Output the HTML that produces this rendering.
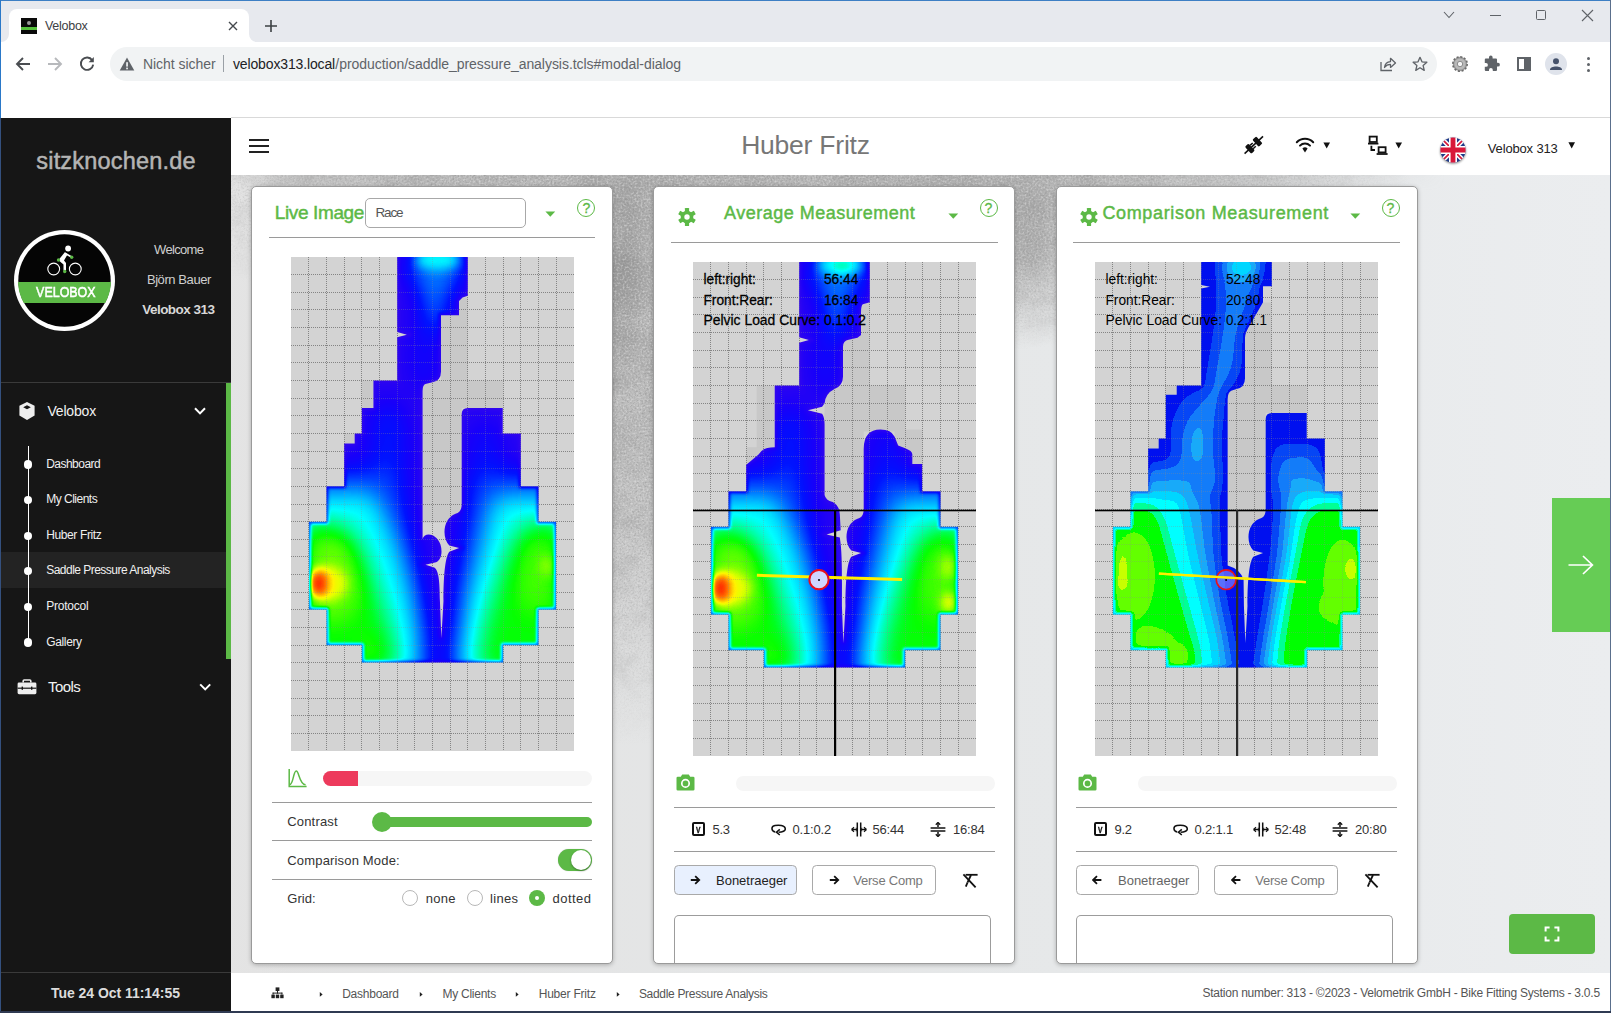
<!DOCTYPE html>
<html><head><meta charset="utf-8"><title>Velobox</title>
<style>
*{box-sizing:border-box;margin:0;padding:0}
html,body{width:1611px;height:1013px;overflow:hidden;background:#fff;font-family:"Liberation Sans",sans-serif;}
.abs{position:absolute}
#win{position:absolute;left:0;top:0;width:1611px;height:1013px;overflow:hidden;background:#fff}
.t{position:absolute;white-space:nowrap;line-height:1}
/* chrome */
#tabbar{position:absolute;left:0;top:0;width:1611px;height:43px;background:#e7e9ee}
#tab{position:absolute;left:9px;top:9px;width:240px;height:34px;background:#fff;border-radius:8px 8px 0 0}
#toolbar{position:absolute;left:0;top:42px;width:1611px;height:75px;background:#fff}
#omni{position:absolute;left:110px;top:47px;width:1327px;height:34px;border-radius:17px;background:#f1f3f4}
/* app */
#side{position:absolute;left:1px;top:118px;width:230px;height:895px;background:#161616}
#hdr{position:absolute;left:231px;top:118px;width:1380px;height:57px;background:#fff}
#content{position:absolute;left:231px;top:175px;width:1380px;height:798px;overflow:hidden;background:#dcdedf}
#foot{position:absolute;left:231px;top:973px;width:1380px;height:40px;background:#fff}
.card{position:absolute;top:186px;width:362px;height:778px;background:#fff;border:1px solid #9a9a9a;border-radius:5px;box-shadow:0 1px 4px rgba(0,0,0,.25);overflow:hidden}
.hr{position:absolute;height:1px;background:#9a9a9a}
.g{color:#5cb946}
</style></head><body><div id="win">

<!-- browser chrome -->
<div id="tabbar"></div>
<div id="tab"></div>
<svg class="abs" style="left:1px;top:34px" width="8" height="8"><path d="M8 0 V8 H0 A8 8 0 0 0 8 0Z" fill="#fff"/></svg>
<svg class="abs" style="left:249px;top:34px" width="8" height="8"><path d="M0 0 V8 H8 A8 8 0 0 1 0 0Z" fill="#fff"/></svg>
<div id="toolbar"></div>
<div class="abs" style="left:231px;top:117px;width:1380px;height:1px;background:#d9d9d9"></div>
<div id="omni"></div>
<!-- favicon -->
<div class="abs" style="left:21px;top:18px;width:16px;height:16px;background:#0a0a0a"></div>
<div class="abs" style="left:21px;top:27px;width:16px;height:3px;background:#55c03c"></div>
<div class="abs" style="left:27px;top:21px;width:4px;height:4px;border-radius:2px;background:#999"></div>
<svg class="abs" style="left:227px;top:20px" width="12" height="12"><path d="M2 2 L10 10 M10 2 L2 10" stroke="#45494d" stroke-width="1.4" fill="none"/></svg>
<svg class="abs" style="left:263px;top:18px" width="16" height="16"><path d="M8 2 V14 M2 8 H14" stroke="#3c4043" stroke-width="1.6" fill="none"/></svg>
<!-- window controls -->
<svg class="abs" style="left:1440px;top:8px" width="18" height="14"><path d="M4 4 L9 9.5 L14 4" stroke="#5f6368" stroke-width="1.1" fill="none"/></svg>
<div class="abs" style="left:1490px;top:15px;width:11px;height:1px;background:#5f6368"></div>
<div class="abs" style="left:1536px;top:10px;width:10px;height:10px;border:1px solid #5f6368;border-radius:1.5px"></div>
<svg class="abs" style="left:1581px;top:9px" width="13" height="13"><path d="M1 1 L12 12 M12 1 L1 12" stroke="#5f6368" stroke-width="1.1" fill="none"/></svg>
<!-- nav buttons -->
<svg class="abs" style="left:14px;top:55px" width="18" height="18"><path d="M16 9 H3.5 M9 3 L3 9 L9 15" stroke="#4a4d51" stroke-width="1.9" fill="none"/></svg>
<svg class="abs" style="left:46px;top:55px" width="18" height="18"><path d="M2 9 H14.5 M9 3 L15 9 L9 15" stroke="#b7b9bc" stroke-width="1.9" fill="none"/></svg>
<svg class="abs" style="left:78px;top:55px" width="18" height="18"><path d="M14.2 5.2 A6.2 6.2 0 1 0 15.2 9.6" stroke="#4a4d51" stroke-width="1.9" fill="none"/><path d="M15.8 2 V7.2 H10.6Z" fill="#4a4d51"/></svg>
<!-- warning -->
<svg class="abs" style="left:119px;top:56px" width="16" height="16"><path d="M8 1.5 L15.3 14.5 H0.7Z" fill="#5f6368"/><rect x="7.2" y="6.2" width="1.7" height="4.4" fill="#f1f3f4"/><rect x="7.2" y="11.6" width="1.7" height="1.7" fill="#f1f3f4"/></svg>
<div class="abs" style="left:223px;top:55px;width:1px;height:17px;background:#9aa0a6"></div>
<!-- omnibox right icons -->
<svg class="abs" style="left:1378px;top:55px" width="20" height="18"><path d="M3 7 V15.5 H14" stroke="#5f6368" stroke-width="1.3" fill="none"/><path d="M6.5 12.5 C7 8.5 9.5 6.8 12.5 6.6 V3.3 L17.5 8 L12.5 12.4 V9.4 C10 9.4 8 10.3 6.5 12.5Z" stroke="#5f6368" stroke-width="1.3" fill="none" stroke-linejoin="round"/></svg>
<svg class="abs" style="left:1411px;top:55px" width="18" height="18" viewBox="0 0 20 20"><path d="M10 2.6 L12.2 7.6 L17.6 8.1 L13.5 11.7 L14.7 17 L10 14.2 L5.3 17 L6.5 11.7 L2.4 8.1 L7.8 7.6Z" stroke="#5f6368" stroke-width="1.5" fill="none" stroke-linejoin="round"/></svg>
<!-- extension gear -->
<svg class="abs" style="left:1450px;top:54px" width="20" height="20"><circle cx="10" cy="10" r="7.2" fill="#9a9a9a" stroke="#6b6b6b" stroke-width="1.6" stroke-dasharray="2.1 1.67"/><circle cx="10" cy="10" r="5.6" fill="#b9b9b9"/><circle cx="10" cy="10" r="2.7" fill="#f4f4f4" stroke="#777" stroke-width=".8"/></svg>
<!-- puzzle -->
<svg class="abs" style="left:1481px;top:54px" width="20" height="20"><path d="M8 3.2 a1.8 1.8 0 0 1 3.6 0 V4.6 H15 a1 1 0 0 1 1 1 V8.8 h1 a1.9 1.9 0 0 1 0 3.8 h-1 V16 a1 1 0 0 1 -1 1 H11.8 v-1.1 a1.9 1.9 0 0 0 -3.8 0 V17 H4.8 a1 1 0 0 1 -1 -1 V12.8 H5 a1.9 1.9 0 0 0 0 -3.8 H3.8 V5.6 a1 1 0 0 1 1 -1 H8Z" fill="#5f6368"/></svg>
<!-- side panel -->
<div class="abs" style="left:1517px;top:57px;width:14px;height:14px;border:2px solid #5f6368"></div>
<div class="abs" style="left:1524px;top:57px;width:7px;height:14px;background:#5f6368"></div>
<!-- avatar -->
<div class="abs" style="left:1545px;top:53px;width:22px;height:22px;border-radius:11px;background:#dfe3eb"></div>
<svg class="abs" style="left:1545px;top:53px" width="22" height="22"><circle cx="11" cy="8.2" r="3" fill="#45526b"/><path d="M5 16.6 C5 12.4 17 12.4 17 16.6 V17 H5Z" fill="#45526b"/></svg>
<!-- kebab -->
<div class="abs" style="left:1587px;top:57px;width:3px;height:3px;border-radius:2px;background:#5f6368"></div>
<div class="abs" style="left:1587px;top:63px;width:3px;height:3px;border-radius:2px;background:#5f6368"></div>
<div class="abs" style="left:1587px;top:69px;width:3px;height:3px;border-radius:2px;background:#5f6368"></div>

<div class="t" style="left:45.0px;top:19.6px;font-size:12.5px;color:#3c4043;letter-spacing:-0.28px;">Velobox</div><div class="t" style="left:143.0px;top:57.0px;font-size:14px;color:#5f6368;letter-spacing:-0.05px;">Nicht sicher</div><div class="t" style="left:233.0px;top:57.0px;font-size:14px;color:#202124;letter-spacing:-0.14px;">velobox313.local</div><div class="t" style="left:335.3px;top:57.0px;font-size:14px;color:#5f6368;letter-spacing:-0.04px;">/production/saddle_pressure_analysis.tcls#modal-dialog</div>
<div id="side"></div>
<div class="abs" style="left:0;top:118px;width:1px;height:895px;background:#34507e"></div><div class="t" style="left:36.3px;top:149.8px;font-size:23.5px;color:#b4b4b4;letter-spacing:0.19px;-webkit-text-stroke:.5px #b4b4b4;">sitzknochen.de</div><svg class="abs" style="left:12px;top:228px" width="105" height="105" viewBox="-52.5 -52.5 105 105">
<defs><clipPath id="lgc"><circle r="46.5"/></clipPath></defs>
<circle r="50.5" fill="#fff"/><circle r="46.2" fill="#050505"/>
<rect x="-50" y="1.5" width="100" height="21" fill="#5cb946" clip-path="url(#lgc)"/>
<g fill="none" stroke="#fff" stroke-width="1.1"><circle cx="-10.8" cy="-11.5" r="5.9"/><circle cx="10.8" cy="-11.5" r="5.9"/></g>
<circle cx="3.6" cy="-32" r="2.9" fill="#fff"/>
<path d="M-6 -20.5 L0.5 -28.5 L3 -26 L-0.5 -20 L1.5 -17.5 L1.5 -10 L-1 -10 L-1 -16 L-4.5 -19 Z" fill="#fff"/>
<path d="M1 -27 L7 -23.5" stroke="#fff" stroke-width="1.6"/>
<circle cx="-6" cy="-20.5" r="1.7" fill="#5cb946"/><circle cx="7.2" cy="-23.2" r="1.7" fill="#5cb946"/><circle cx="0.2" cy="-9" r="1.7" fill="#5cb946"/>
</svg><div class="t" style="left:29.5px;top:283.6px;font-size:15px;color:#fff;transform:scaleX(.83);-webkit-text-stroke:.55px #fff;">VELOBOX</div><div class="t" style="left:154.0px;top:242.8px;font-size:13px;color:#cfcfcf;letter-spacing:-0.66px;">Welcome</div><div class="t" style="left:146.9px;top:273.4px;font-size:13px;color:#cfcfcf;letter-spacing:-0.42px;">Björn Bauer</div><div class="t" style="left:142.2px;top:302.8px;font-size:13.5px;color:#d8d8d8;font-weight:700;letter-spacing:-0.52px;">Velobox 313</div><div class="abs" style="left:1px;top:382px;width:230px;height:1px;background:#3a3a3a"></div><div class="abs" style="left:226px;top:383px;width:5px;height:276px;background:#5cb946"></div><svg class="abs" style="left:17px;top:401px" width="20" height="20" viewBox="0 0 20 20"><path d="M10 1 L17.6 4.8 V14.6 L10 19 L2.4 14.6 V4.8Z" fill="#eee"/><path d="M10 4.2 L13.8 6.2 L10 8.3 L6.2 6.2Z" fill="#161616"/></svg><div class="t" style="left:47.4px;top:404.1px;font-size:14px;color:#f2f2f2;letter-spacing:-0.18px;">Velobox</div><svg class="abs" style="left:193px;top:405px" width="14" height="12"><path d="M2 3.2 L7 8.4 L12 3.2" stroke="#fff" stroke-width="2" fill="none"/></svg><div class="abs" style="left:1px;top:552px;width:225px;height:36px;background:#232323"></div><div class="abs" style="left:27.5px;top:446px;width:1.5px;height:197px;background:#fff"></div><div class="abs" style="left:24px;top:460.4px;width:8.4px;height:8.4px;border-radius:5px;background:#fff"></div><div class="t" style="left:46.2px;top:457.7px;font-size:12px;color:#f0f0f0;letter-spacing:-0.52px;">Dashboard</div><div class="abs" style="left:24px;top:495.5px;width:8.4px;height:8.4px;border-radius:5px;background:#fff"></div><div class="t" style="left:46.2px;top:492.8px;font-size:12px;color:#f0f0f0;letter-spacing:-0.50px;">My Clients</div><div class="abs" style="left:24px;top:531.5px;width:8.4px;height:8.4px;border-radius:5px;background:#fff"></div><div class="t" style="left:46.2px;top:528.8px;font-size:12px;color:#f0f0f0;letter-spacing:-0.38px;">Huber Fritz</div><div class="abs" style="left:24px;top:566.6px;width:8.4px;height:8.4px;border-radius:5px;background:#fff"></div><div class="t" style="left:46.2px;top:563.9px;font-size:12px;color:#f0f0f0;letter-spacing:-0.52px;">Saddle Pressure Analysis</div><div class="abs" style="left:24px;top:602.6px;width:8.4px;height:8.4px;border-radius:5px;background:#fff"></div><div class="t" style="left:46.2px;top:599.9px;font-size:12px;color:#f0f0f0;letter-spacing:-0.23px;">Protocol</div><div class="abs" style="left:24px;top:638.4px;width:8.4px;height:8.4px;border-radius:5px;background:#fff"></div><div class="t" style="left:46.2px;top:635.7px;font-size:12px;color:#f0f0f0;letter-spacing:-0.35px;">Gallery</div><svg class="abs" style="left:17px;top:679px" width="20" height="16" viewBox="0 0 20 16"><path d="M6.2 3.6 V2 a1 1 0 0 1 1 -1 H12.8 a1 1 0 0 1 1 1 V3.6" stroke="#eee" stroke-width="1.6" fill="none"/><rect x="0.6" y="3.6" width="18.8" height="11.6" rx="1.4" fill="#eee"/><rect x="0.6" y="8.6" width="18.8" height="1.2" fill="#161616"/><rect x="4.6" y="7.6" width="1.4" height="3.2" fill="#161616"/><rect x="14" y="7.6" width="1.4" height="3.2" fill="#161616"/></svg><div class="t" style="left:48.1px;top:679.2px;font-size:15px;color:#f2f2f2;letter-spacing:-0.61px;">Tools</div><svg class="abs" style="left:198px;top:681px" width="14" height="12"><path d="M2.2 3.4 L7.2 8.4 L12.2 3.4" stroke="#fff" stroke-width="2" fill="none"/></svg><div class="abs" style="left:1px;top:972px;width:230px;height:1px;background:#3a3a3a"></div><div class="t" style="left:51.0px;top:986.1px;font-size:14px;color:#dcdcdc;font-weight:700;letter-spacing:-0.04px;">Tue 24 Oct 11:14:55</div>
<div id="hdr"></div>
<div class="abs" style="left:249px;top:139px;width:20px;height:2px;background:#222"></div><div class="abs" style="left:249px;top:145px;width:20px;height:2px;background:#222"></div><div class="abs" style="left:249px;top:151px;width:20px;height:2px;background:#222"></div><div class="t" style="left:741.2px;top:132.1px;font-size:26.5px;color:#777;letter-spacing:-0.23px;">Huber Fritz</div><svg class="abs" style="left:1243px;top:134px" width="22" height="22" viewBox="0 0 22 22"><g transform="translate(10.8 11) rotate(-43)" fill="#111"><rect x="-12.6" y="-0.8" width="25.2" height="1.6"/><rect x="-7.8" y="-4.7" width="4.9" height="9.4" rx="1.2"/><rect x="2.4" y="-4.7" width="5.2" height="9.4" rx="1.2"/><rect x="-3" y="-3" width="3.6" height="1.5"/><rect x="-3" y="1.5" width="3.6" height="1.5"/></g></svg><svg class="abs" style="left:1295px;top:136px" width="20" height="18" viewBox="0 0 20 18"><g fill="none" stroke="#111" stroke-width="2" stroke-linecap="round"><path d="M1.8 6.2 A11.6 11.6 0 0 1 18.2 6.2"/><path d="M5 9.6 A7.1 7.1 0 0 1 15 9.6"/></g><path d="M7.4 12.6 A3.7 3.7 0 0 1 12.6 12.6 L10 16.4Z" fill="#111"/></svg><svg class="abs" style="left:1323px;top:142px" width="8" height="7"><path d="M0.4 0.5 H7 L3.7 6.4Z" fill="#111"/></svg><svg class="abs" style="left:1368px;top:135px" width="20" height="21" viewBox="0 0 20 21"><g fill="none" stroke="#111" stroke-width="1.8"><rect x="1.6" y="1.6" width="7.2" height="5.4"/><path d="M0 8.6 H10.4"/><rect x="10.6" y="12.2" width="7" height="5.2"/><path d="M8.6 19 H19.6"/><path d="M3.4 10.8 V15 H7"/></g></svg><svg class="abs" style="left:1395px;top:142px" width="8" height="7"><path d="M0.4 0.5 H7 L3.7 6.4Z" fill="#111"/></svg><svg class="abs" style="left:1436px;top:133px" width="34" height="34" viewBox="-17 -17 34 34"><defs><clipPath id="fc"><circle r="12.6"/></clipPath><filter id="fsh" x="-30%" y="-30%" width="160%" height="160%"><feGaussianBlur stdDeviation="1.2"/></filter></defs>
<circle r="12.8" cy="1" fill="#000" opacity=".45" filter="url(#fsh)"/>
<g clip-path="url(#fc)"><rect x="-13" y="-13" width="26" height="26" fill="#1f3a8a"/><path d="M-13 -13 L13 13 M13 -13 L-13 13" stroke="#fff" stroke-width="4.6"/><path d="M-13 -13 L13 13 M13 -13 L-13 13" stroke="#d8183a" stroke-width="1.6"/><path d="M0 -13 V13 M-13 0 H13" stroke="#fff" stroke-width="8"/><path d="M0 -13 V13 M-13 0 H13" stroke="#d8183a" stroke-width="4.8"/></g></svg><div class="t" style="left:1487.8px;top:141.6px;font-size:13px;color:#222;letter-spacing:-0.16px;">Velobox 313</div><svg class="abs" style="left:1568px;top:142px" width="8" height="7"><path d="M0.4 0.3 H7 L3.7 6.4Z" fill="#111"/></svg>
<div id="content"></div>
<svg class="abs" style="left:231px;top:175px" width="1380" height="798" viewBox="0 0 1380 798">
<defs>
<radialGradient id="bgc" gradientUnits="userSpaceOnUse" cx="400" cy="60" r="1" gradientTransform="translate(400 60) scale(250 510) translate(-400 -60)">
<stop offset="0" stop-color="#aeaeae" stop-opacity="1"/><stop offset=".3" stop-color="#b2b2b2" stop-opacity=".95"/><stop offset=".6" stop-color="#bbbbbb" stop-opacity=".75"/><stop offset=".8" stop-color="#c4c4c4" stop-opacity=".4"/><stop offset="1" stop-color="#d0d0d0" stop-opacity="0"/></radialGradient>
<radialGradient id="bgd" gradientUnits="userSpaceOnUse" cx="540" cy="0" r="1" gradientTransform="translate(540 0) scale(640 190) translate(-540 0)">
<stop offset="0" stop-color="#adadad" stop-opacity="1"/><stop offset=".5" stop-color="#b2b2b2" stop-opacity=".9"/><stop offset=".8" stop-color="#bcbcbc" stop-opacity=".5"/><stop offset="1" stop-color="#d0d0d0" stop-opacity="0"/></radialGradient>
<linearGradient id="bgl" x1="0" y1="0" x2="1" y2="0"><stop offset="0" stop-color="#e2e2e2"/><stop offset=".6" stop-color="#e6e8e9"/><stop offset="1" stop-color="#ebedef"/></linearGradient>
<linearGradient id="bgtop" x1="0" y1="0" x2="0" y2="1"><stop offset="0" stop-color="#a8a8a8" stop-opacity=".35"/><stop offset="1" stop-color="#a8a8a8" stop-opacity="0"/></linearGradient>
<linearGradient id="bgleft" x1="0" y1="0" x2="1" y2="0"><stop offset="0" stop-color="#e4e4e4" stop-opacity=".9"/><stop offset="1" stop-color="#e4e4e4" stop-opacity="0"/></linearGradient>
<filter id="bgn" x="0" y="0" width="100%" height="100%"><feTurbulence type="fractalNoise" baseFrequency="0.045 0.05" numOctaves="5" seed="7" result="t"/><feColorMatrix type="matrix" values="0 0 0 0 0.36  0 0 0 0 0.36  0 0 0 0 0.36  2.2 0 0 0 -0.95"/></filter>
<filter id="bgn2" x="0" y="0" width="100%" height="100%"><feTurbulence type="fractalNoise" baseFrequency="0.02 0.025" numOctaves="4" seed="11"/><feColorMatrix type="matrix" values="0 0 0 0 1  0 0 0 0 1  0 0 0 0 1  1.5 0 0 0 -0.6"/></filter>
<filter id="bgn3" x="0" y="0" width="100%" height="100%"><feTurbulence type="fractalNoise" baseFrequency="0.55" numOctaves="2" seed="5"/><feColorMatrix type="matrix" values="0 0 0 0 0.25  0 0 0 0 0.25  0 0 0 0 0.25  2.6 0 0 0 -1.15"/></filter><filter id="bgn4" x="0" y="0" width="100%" height="100%"><feTurbulence type="fractalNoise" baseFrequency="0.5" numOctaves="2" seed="9"/><feColorMatrix type="matrix" values="0 0 0 0 0.95  0 0 0 0 0.95  0 0 0 0 0.95  0 2.6 0 0 -1.15"/></filter><filter id="bgbl" x="-50%" y="-50%" width="200%" height="200%"><feGaussianBlur stdDeviation="9"/></filter><mask id="bgm"><rect width="1380" height="798" fill="#000"/><rect width="1380" height="798" fill="url(#bgc)"/><rect width="1380" height="798" fill="url(#bgd)"/></mask>
<linearGradient id="bgtg" x1="0" y1="0" x2="1" y2="0"><stop offset="0" stop-color="#fff"/><stop offset=".72" stop-color="#fff"/><stop offset=".88" stop-color="#000"/></linearGradient><mask id="bgtm"><rect width="1380" height="16" fill="url(#bgtg)"/></mask></defs>
<rect width="1380" height="798" fill="url(#bgl)"/>
<rect width="1380" height="798" fill="url(#bgd)"/>
<rect width="1380" height="798" fill="url(#bgc)"/>
<rect width="1380" height="16" fill="url(#bgtop)" mask="url(#bgtm)"/>
<rect width="60" height="798" fill="url(#bgleft)"/>
<ellipse cx="392" cy="90" rx="16" ry="85" fill="#868686" opacity=".55" filter="url(#bgbl)"/><ellipse cx="800" cy="60" rx="14" ry="50" fill="#8a8a8a" opacity=".4" filter="url(#bgbl)"/><g mask="url(#bgm)"><rect width="1380" height="798" filter="url(#bgn)"/><rect width="1380" height="798" filter="url(#bgn2)" opacity=".35"/><rect width="1380" height="798" filter="url(#bgn3)" opacity=".7"/><rect width="1380" height="798" filter="url(#bgn4)" opacity=".6"/></g>
</svg><div class="card" style="left:251px"></div><div class="card" style="left:653px"></div><div class="card" style="left:1056px"></div><div class="t" style="left:274.8px;top:203.1px;font-size:19px;color:#5cb946;letter-spacing:-0.38px;-webkit-text-stroke:.45px #5cb946;">Live Image</div><div class="abs" style="left:365px;top:198px;width:161px;height:30px;border:1px solid #a8a8a8;border-radius:5px;background:#fff"></div><div class="t" style="left:375.6px;top:206.2px;font-size:13.5px;color:#555;letter-spacing:-1.23px;">Race</div><svg class="abs" style="left:545px;top:210.6px" width="11" height="7"><path d="M0.4 0.6 H10.2 L5.3 5.8Z" fill="#5cb946"/></svg><div class="abs" style="left:577.3px;top:199.2px;width:18px;height:18px;border:1.7px solid #5cb946;border-radius:9px"></div><div class="t" style="left:582.4px;top:201.2px;font-size:14px;color:#5cb946;-webkit-text-stroke:.3px #5cb946;">?</div><div class="hr" style="left:269px;top:237px;width:326px;background:#9a9a9a"></div><svg class="abs" style="left:288px;top:768px" width="20" height="20" viewBox="0 0 20 20"><path d="M1.2 1 V18.6 H18.6" stroke="#5cb946" stroke-width="1.5" fill="none"/><path d="M1.6 16.8 C5.5 16.6 5.2 3 8.2 3 C11.2 3 11.2 16.6 17.6 16.8" stroke="#5cb946" stroke-width="1.5" fill="none"/></svg><div class="abs" style="left:322.6px;top:771px;width:269.4px;height:15px;border-radius:8px;background:#f6f6f6;overflow:hidden"><div style="width:35.4px;height:15px;background:#ed3a5c"></div></div><div class="hr" style="left:272px;top:802px;width:320px;background:#9a9a9a"></div><div class="t" style="left:287.3px;top:815.0px;font-size:13px;color:#333;letter-spacing:0.16px;">Contrast</div><div class="abs" style="left:373px;top:817px;width:219px;height:10px;border-radius:5px;background:#5cb946"></div><div class="abs" style="left:371.6px;top:812px;width:20px;height:20px;border-radius:10px;background:#5cb946"></div><div class="hr" style="left:272px;top:840px;width:320px;background:#9a9a9a"></div><div class="t" style="left:287.3px;top:853.9px;font-size:13px;color:#333;letter-spacing:0.17px;">Comparison Mode:</div><div class="abs" style="left:558px;top:849px;width:34px;height:22px;border-radius:11px;background:#5cb946;box-shadow:0 0 1px rgba(0,0,0,.3)"></div><div class="abs" style="left:571px;top:850px;width:20px;height:20px;border-radius:10px;background:#fff;box-shadow:0 1px 2px rgba(0,0,0,.35)"></div><div class="hr" style="left:272px;top:879px;width:320px;background:#9a9a9a"></div><div class="t" style="left:287.3px;top:891.8px;font-size:13px;color:#333;letter-spacing:0.03px;">Grid:</div><div class="abs" style="left:401.9px;top:890.1px;width:16px;height:16px;border-radius:8px;border:1px solid #b8b8b8;background:#fff"></div><div class="abs" style="left:466.8px;top:890.1px;width:16px;height:16px;border-radius:8px;border:1px solid #b8b8b8;background:#fff"></div><div class="abs" style="left:528.8px;top:890.1px;width:16px;height:16px;border-radius:8px;background:#5cb946"></div><div class="abs" style="left:534.5999999999999px;top:895.9px;width:4.4px;height:4.4px;border-radius:3px;background:#fff"></div><div class="t" style="left:425.7px;top:891.8px;font-size:13px;color:#333;letter-spacing:0.27px;">none</div><div class="t" style="left:490.1px;top:891.8px;font-size:13px;color:#333;letter-spacing:0.27px;">lines</div><div class="t" style="left:552.6px;top:891.8px;font-size:13px;color:#333;letter-spacing:0.46px;">dotted</div><svg class="abs" style="left:678px;top:208px" width="18" height="18" viewBox="-9 -9 18 18"><g fill="#5cb946"><circle r="6.3"/><rect x="-2.1" y="-9" width="4.2" height="5" rx=".6" transform="rotate(0)"/><rect x="-2.1" y="-9" width="4.2" height="5" rx=".6" transform="rotate(60)"/><rect x="-2.1" y="-9" width="4.2" height="5" rx=".6" transform="rotate(120)"/><rect x="-2.1" y="-9" width="4.2" height="5" rx=".6" transform="rotate(180)"/><rect x="-2.1" y="-9" width="4.2" height="5" rx=".6" transform="rotate(240)"/><rect x="-2.1" y="-9" width="4.2" height="5" rx=".6" transform="rotate(300)"/></g><circle r="2.7" fill="#fff"/></svg><div class="t" style="left:724.0px;top:203.8px;font-size:18px;color:#5cb946;letter-spacing:0.50px;-webkit-text-stroke:.45px #5cb946;">Average Measurement</div><svg class="abs" style="left:947.6px;top:213.4px" width="11" height="7"><path d="M0.4 0.6 H10.2 L5.3 5.8Z" fill="#5cb946"/></svg><div class="abs" style="left:979.5px;top:199.2px;width:18px;height:18px;border:1.7px solid #5cb946;border-radius:9px"></div><div class="t" style="left:984.6px;top:201.2px;font-size:14px;color:#5cb946;-webkit-text-stroke:.3px #5cb946;">?</div><div class="hr" style="left:671px;top:242px;width:327px;background:#9a9a9a"></div><svg class="abs" style="left:675.5px;top:773.5px" width="19" height="17" viewBox="0 0 19 17"><path d="M6.2 0.6 H12.8 L14.2 2.8 H17.2 a1.3 1.3 0 0 1 1.3 1.3 V15.2 a1.3 1.3 0 0 1 -1.3 1.3 H1.8 a1.3 1.3 0 0 1 -1.3 -1.3 V4.1 a1.3 1.3 0 0 1 1.3 -1.3 H4.8Z" fill="#5cb946"/><circle cx="9.5" cy="9.4" r="3.7" fill="none" stroke="#fff" stroke-width="1.7"/></svg><div class="abs" style="left:736px;top:776.4px;width:259px;height:14.4px;border-radius:7.2px;background:#f6f6f6"></div><div class="hr" style="left:674px;top:807px;width:321px;background:#9a9a9a"></div><div class="abs" style="left:691.7px;top:822.4px;width:13.6px;height:13.4px;border:2px solid #111;border-radius:2px"></div><div class="t" style="left:695.3px;top:825.2px;font-size:9.5px;color:#111;font-weight:700;transform:scaleX(.7);-webkit-text-stroke:.4px #111;">V</div><div class="t" style="left:712.5px;top:822.7px;font-size:13px;color:#333;letter-spacing:-0.29px;">5.3</div><svg class="abs" style="left:770px;top:823px" width="17" height="13" viewBox="0 0 17 13"><path d="M5.2 9 C1 8 0.8 3.4 5 2.6 C9 1.8 14.4 2.4 15.2 5.2 C16 8 12 9.2 8.6 9.2" stroke="#111" stroke-width="1.5" fill="none"/><path d="M9.8 6.4 L6.4 9.2 L9.8 12" stroke="#111" stroke-width="1.5" fill="none"/></svg><div class="t" style="left:792.5px;top:822.7px;font-size:13px;color:#333;letter-spacing:-0.17px;">0.1:0.2</div><svg class="abs" style="left:850.6px;top:822px" width="16" height="15" viewBox="0 0 16 15"><g stroke="#111" stroke-width="1.5" fill="none"><path d="M6.3 0.4 V14.6 M9.7 0.4 V14.6"/><path d="M0.6 7.5 H5 M11 7.5 H15.4"/></g><path d="M4.9 5 L6.3 7.5 L4.9 10Z M11.1 5 L9.7 7.5 L11.1 10Z" fill="#111"/><path d="M0.6 7.5 L3 5.2 M0.6 7.5 L3 9.8 M15.4 7.5 L13 5.2 M15.4 7.5 L13 9.8" stroke="#111" stroke-width="1.2"/></svg><div class="t" style="left:872.4px;top:822.7px;font-size:13px;color:#333;letter-spacing:-0.15px;">56:44</div><svg class="abs" style="left:930.4px;top:822px" width="16" height="15" viewBox="0 0 16 15"><g stroke="#111" stroke-width="1.5" fill="none"><path d="M0.6 5.9 H15.4 M0.6 9.1 H15.4"/><path d="M8 0.4 V5 M8 10 V14.6"/></g><path d="M8 0.4 L5.8 2.8 M8 0.4 L10.2 2.8 M8 14.6 L5.8 12.2 M8 14.6 L10.2 12.2" stroke="#111" stroke-width="1.3"/></svg><div class="t" style="left:953.1px;top:822.7px;font-size:13px;color:#333;letter-spacing:-0.23px;">16:84</div><div class="hr" style="left:674px;top:851px;width:321px;background:#9a9a9a"></div><div class="abs" style="left:674.3px;top:865px;width:122.6px;height:30px;border:1px solid #a9a9a9;border-radius:4.5px;background:#e8f0fe"></div><div class="abs" style="left:812.3px;top:865px;width:123.6px;height:30px;border:1px solid #a9a9a9;border-radius:4.5px;background:#fff"></div><svg class="abs" style="left:690px;top:874.6px" width="11" height="10"><path d="M0.8 5 H9 M5.2 1.2 L9.2 5 L5.2 8.8" stroke="#111" stroke-width="1.8" fill="none"/></svg><svg class="abs" style="left:828.5px;top:874.6px" width="11" height="10"><path d="M0.8 5 H9 M5.2 1.2 L9.2 5 L5.2 8.8" stroke="#111" stroke-width="1.8" fill="none"/></svg><div class="t" style="left:716.0px;top:873.9px;font-size:13px;color:#222;letter-spacing:-0.01px;">Bonetraeger</div><div class="t" style="left:853.3px;top:873.9px;font-size:13px;color:#777;letter-spacing:-0.23px;">Verse Comp</div><svg class="abs" style="left:962px;top:873px" width="17" height="16" viewBox="0 0 17 16"><g stroke="#111" stroke-width="1.8" fill="none"><path d="M3.6 1.8 H15.6"/><path d="M9 2 L5.6 9.4"/><path d="M1.4 1.4 L13.6 14.4"/><path d="M5.6 9.4 L3.8 13.6"/></g></svg><div class="abs" style="left:674.3px;top:915.4px;width:316.6px;height:47.6px;border:1px solid #9c9c9c;border-bottom:0;border-radius:5px 5px 0 0;background:#fff"></div><svg class="abs" style="left:1080px;top:208px" width="18" height="18" viewBox="-9 -9 18 18"><g fill="#5cb946"><circle r="6.3"/><rect x="-2.1" y="-9" width="4.2" height="5" rx=".6" transform="rotate(0)"/><rect x="-2.1" y="-9" width="4.2" height="5" rx=".6" transform="rotate(60)"/><rect x="-2.1" y="-9" width="4.2" height="5" rx=".6" transform="rotate(120)"/><rect x="-2.1" y="-9" width="4.2" height="5" rx=".6" transform="rotate(180)"/><rect x="-2.1" y="-9" width="4.2" height="5" rx=".6" transform="rotate(240)"/><rect x="-2.1" y="-9" width="4.2" height="5" rx=".6" transform="rotate(300)"/></g><circle r="2.7" fill="#fff"/></svg><div class="t" style="left:1102.4px;top:203.8px;font-size:18px;color:#5cb946;letter-spacing:0.66px;-webkit-text-stroke:.45px #5cb946;">Comparison Measurement</div><svg class="abs" style="left:1349.6px;top:213.4px" width="11" height="7"><path d="M0.4 0.6 H10.2 L5.3 5.8Z" fill="#5cb946"/></svg><div class="abs" style="left:1381.5px;top:199.2px;width:18px;height:18px;border:1.7px solid #5cb946;border-radius:9px"></div><div class="t" style="left:1386.6px;top:201.2px;font-size:14px;color:#5cb946;-webkit-text-stroke:.3px #5cb946;">?</div><div class="hr" style="left:1073px;top:242px;width:327px;background:#9a9a9a"></div><svg class="abs" style="left:1077.5px;top:773.5px" width="19" height="17" viewBox="0 0 19 17"><path d="M6.2 0.6 H12.8 L14.2 2.8 H17.2 a1.3 1.3 0 0 1 1.3 1.3 V15.2 a1.3 1.3 0 0 1 -1.3 1.3 H1.8 a1.3 1.3 0 0 1 -1.3 -1.3 V4.1 a1.3 1.3 0 0 1 1.3 -1.3 H4.8Z" fill="#5cb946"/><circle cx="9.5" cy="9.4" r="3.7" fill="none" stroke="#fff" stroke-width="1.7"/></svg><div class="abs" style="left:1138px;top:776.4px;width:259px;height:14.4px;border-radius:7.2px;background:#f6f6f6"></div><div class="hr" style="left:1076px;top:807px;width:321px;background:#9a9a9a"></div><div class="abs" style="left:1093.7px;top:822.4px;width:13.6px;height:13.4px;border:2px solid #111;border-radius:2px"></div><div class="t" style="left:1097.3px;top:825.2px;font-size:9.5px;color:#111;font-weight:700;transform:scaleX(.7);-webkit-text-stroke:.4px #111;">V</div><div class="t" style="left:1114.5px;top:822.7px;font-size:13px;color:#333;letter-spacing:-0.29px;">9.2</div><svg class="abs" style="left:1172px;top:823px" width="17" height="13" viewBox="0 0 17 13"><path d="M5.2 9 C1 8 0.8 3.4 5 2.6 C9 1.8 14.4 2.4 15.2 5.2 C16 8 12 9.2 8.6 9.2" stroke="#111" stroke-width="1.5" fill="none"/><path d="M9.8 6.4 L6.4 9.2 L9.8 12" stroke="#111" stroke-width="1.5" fill="none"/></svg><div class="t" style="left:1194.5px;top:822.7px;font-size:13px;color:#333;letter-spacing:-0.17px;">0.2:1.1</div><svg class="abs" style="left:1252.6px;top:822px" width="16" height="15" viewBox="0 0 16 15"><g stroke="#111" stroke-width="1.5" fill="none"><path d="M6.3 0.4 V14.6 M9.7 0.4 V14.6"/><path d="M0.6 7.5 H5 M11 7.5 H15.4"/></g><path d="M4.9 5 L6.3 7.5 L4.9 10Z M11.1 5 L9.7 7.5 L11.1 10Z" fill="#111"/><path d="M0.6 7.5 L3 5.2 M0.6 7.5 L3 9.8 M15.4 7.5 L13 5.2 M15.4 7.5 L13 9.8" stroke="#111" stroke-width="1.2"/></svg><div class="t" style="left:1274.4px;top:822.7px;font-size:13px;color:#333;letter-spacing:-0.15px;">52:48</div><svg class="abs" style="left:1332.4px;top:822px" width="16" height="15" viewBox="0 0 16 15"><g stroke="#111" stroke-width="1.5" fill="none"><path d="M0.6 5.9 H15.4 M0.6 9.1 H15.4"/><path d="M8 0.4 V5 M8 10 V14.6"/></g><path d="M8 0.4 L5.8 2.8 M8 0.4 L10.2 2.8 M8 14.6 L5.8 12.2 M8 14.6 L10.2 12.2" stroke="#111" stroke-width="1.3"/></svg><div class="t" style="left:1355.1px;top:822.7px;font-size:13px;color:#333;letter-spacing:-0.23px;">20:80</div><div class="hr" style="left:1076px;top:851px;width:321px;background:#9a9a9a"></div><div class="abs" style="left:1076.3px;top:865px;width:122.6px;height:30px;border:1px solid #a9a9a9;border-radius:4.5px;background:#fff"></div><div class="abs" style="left:1214.3px;top:865px;width:123.6px;height:30px;border:1px solid #a9a9a9;border-radius:4.5px;background:#fff"></div><svg class="abs" style="left:1092px;top:874.6px" width="11" height="10"><path d="M9.4 5 H1.2 M5 1.2 L1 5 L5 8.8" stroke="#111" stroke-width="1.8" fill="none"/></svg><svg class="abs" style="left:1230.5px;top:874.6px" width="11" height="10"><path d="M9.4 5 H1.2 M5 1.2 L1 5 L5 8.8" stroke="#111" stroke-width="1.8" fill="none"/></svg><div class="t" style="left:1118.0px;top:873.9px;font-size:13px;color:#666;letter-spacing:-0.01px;">Bonetraeger</div><div class="t" style="left:1255.3px;top:873.9px;font-size:13px;color:#777;letter-spacing:-0.23px;">Verse Comp</div><svg class="abs" style="left:1364px;top:873px" width="17" height="16" viewBox="0 0 17 16"><g stroke="#111" stroke-width="1.8" fill="none"><path d="M3.6 1.8 H15.6"/><path d="M9 2 L5.6 9.4"/><path d="M1.4 1.4 L13.6 14.4"/><path d="M5.6 9.4 L3.8 13.6"/></g></svg><div class="abs" style="left:1076.3px;top:915.4px;width:316.6px;height:47.6px;border:1px solid #9c9c9c;border-bottom:0;border-radius:5px 5px 0 0;background:#fff"></div><div class="abs" style="left:1552px;top:498px;width:58px;height:134px;background:#66cc55"></div><svg class="abs" style="left:1567px;top:554px" width="28" height="22"><path d="M1.5 11 H25 M16 2 L25.4 11 L16 20" stroke="#fff" stroke-width="1.7" fill="none"/></svg><div class="abs" style="left:1509px;top:914px;width:86px;height:40px;border-radius:4px;background:#5cb946"></div><svg class="abs" style="left:1544px;top:926px" width="16" height="16"><path d="M1.6 5.6 V1.6 H5.6 M10.4 1.6 H14.4 V5.6 M14.4 10.4 V14.4 H10.4 M5.6 14.4 H1.6 V10.4" stroke="#fff" stroke-width="2" fill="none"/></svg>
<svg class="abs" style="left:291px;top:257px" width="283" height="494" viewBox="0 0 283 494"><rect width="283" height="494" fill="#d3d3d3"/><rect x="150.0" y="40.6" width="26.9" height="82.9" fill="#c8c8c8"/><rect x="131.6" y="123.5" width="80.7" height="27.5" fill="#c8c8c8"/><rect x="131.6" y="151.0" width="39.1" height="114.7" fill="#c8c8c8"/><rect x="70.8" y="123.5" width="11.7" height="27.5" fill="#c8c8c8"/><rect x="53.1" y="176.4" width="10.6" height="10.1" fill="#c8c8c8"/><g stroke="#808080" stroke-opacity="1" stroke-width="1" stroke-dasharray="1 1" fill="none" shape-rendering="crispEdges"><path d="M17.5 0 V494"/><path d="M35.5 0 V494"/><path d="M53.5 0 V494"/><path d="M70.5 0 V494"/><path d="M88.5 0 V494"/><path d="M106.5 0 V494"/><path d="M123.5 0 V494"/><path d="M141.5 0 V494"/><path d="M159.5 0 V494"/><path d="M176.5 0 V494"/><path d="M194.5 0 V494"/><path d="M212.5 0 V494"/><path d="M229.5 0 V494"/><path d="M247.5 0 V494"/><path d="M265.5 0 V494"/><path d="M0 17.5 H283"/><path d="M0 35.5 H283"/><path d="M0 52.5 H283"/><path d="M0 70.5 H283"/><path d="M0 88.5 H283"/><path d="M0 105.5 H283"/><path d="M0 123.5 H283"/><path d="M0 141.5 H283"/><path d="M0 158.5 H283"/><path d="M0 176.5 H283"/><path d="M0 194.5 H283"/><path d="M0 211.5 H283"/><path d="M0 229.5 H283"/><path d="M0 247.5 H283"/><path d="M0 264.5 H283"/><path d="M0 282.5 H283"/><path d="M0 299.5 H283"/><path d="M0 317.5 H283"/><path d="M0 335.5 H283"/><path d="M0 352.5 H283"/><path d="M0 370.5 H283"/><path d="M0 388.5 H283"/><path d="M0 405.5 H283"/><path d="M0 423.5 H283"/><path d="M0 441.5 H283"/><path d="M0 458.5 H283"/><path d="M0 476.5 H283"/></g></svg><svg class="abs" style="left:291px;top:257px" width="283" height="494" viewBox="0 0 16 28" preserveAspectRatio="none"><defs><clipPath id="hlc"><path d="M6 -1 H10 V2.2 L9.7 2.3 L9.5 2.5 V3.3 H8.48 V6.5 Q8.48 7 8 7.1 L7.6 7.2 Q7.44 7.25 7.44 7.6 L7.44 16.0 C7.5 15.6 8.2 15.6 8.45 16.3 C8.6 16.8 8.45 17.2 8.2 17.3 L7.6 17.45 L8.1 17.6 C8.4 17.8 8.4 18.6 8.42 19.5 L8.5 21.6 L8.62 19.5 C8.62 18.2 8.7 17 8.95 16.7 L9.5 16.5 L8.95 16.35 C8.5 15.9 8.6 14.8 9.3 14.55 C9.55 14.5 9.65 14.3 9.65 14 V8.9 Q9.65 8.56 10 8.56 H11.97 V10 H13 V13 H14 V15 H15 V20 H14 V22 H12 V23 H4 V22 H2 V20 H1 V15 H2 V13 H3 V10.57 H3.6 V10 H4 V8.56 H4.66 V7 H6 V4.55 L6.55 4.4 L6 4.25 Z" clip-rule="evenodd"/></clipPath>
<filter id="hlj" filterUnits="userSpaceOnUse" x="0" y="0" width="16" height="28" color-interpolation-filters="sRGB"><feComponentTransfer><feFuncR type="table" tableValues="0.227 0.194 0.161 0.127 0.094 0.061 0.027 0.000 0.000 0.000 0.000 0.000 0.000 0.000 0.000 0.000 0.000 0.000 0.000 0.000 0.000 0.000 0.000 0.000 0.000 0.027 0.162 0.297 0.431 0.589 0.747 0.905 1.000 1.000 1.000 1.000 1.000 1.000 1.000 1.000 1.000"/><feFuncG type="table" tableValues="0.031 0.024 0.016 0.008 0.000 0.022 0.045 0.080 0.164 0.249 0.333 0.417 0.502 0.587 0.673 0.758 0.843 0.922 1.000 1.000 1.000 1.000 1.000 1.000 1.000 1.000 1.000 1.000 1.000 1.000 1.000 1.000 0.952 0.832 0.711 0.591 0.471 0.373 0.275 0.176 0.078"/><feFuncB type="table" tableValues="0.922 0.936 0.951 0.966 0.980 0.987 0.994 1.000 1.000 1.000 1.000 1.000 1.000 1.000 1.000 1.000 1.000 1.000 1.000 0.859 0.718 0.577 0.427 0.275 0.122 0.000 0.000 0.000 0.000 0.000 0.000 0.000 0.000 0.000 0.000 0.000 0.000 0.000 0.000 0.000 0.000"/></feComponentTransfer></filter>
<filter id="hlb" filterUnits="userSpaceOnUse" x="-3" y="-3" width="22" height="34" color-interpolation-filters="sRGB"><feGaussianBlur stdDeviation="0.7"/></filter>
<filter id="hlh" filterUnits="userSpaceOnUse" x="-3" y="-3" width="22" height="34" color-interpolation-filters="sRGB"><feGaussianBlur stdDeviation="0.3"/></filter>
<filter id="hle" filterUnits="userSpaceOnUse" x="-3" y="-3" width="22" height="34" color-interpolation-filters="sRGB"><feGaussianBlur stdDeviation="0.08"/></filter></defs><g clip-path="url(#hlc)"><g filter="url(#hlj)"><rect x="-1" y="-1" width="18" height="30" fill="#000"/><g filter="url(#hlb)"><rect x="-3" y="-3" width="22" height="34" fill="rgb(13,13,13)"/><ellipse cx="8.2" cy="0.6" rx="1.6" ry="1.5" fill="rgb(76,76,76)"/><ellipse cx="8.1" cy="1.6" rx="0.8" ry="3.0" fill="rgb(76,76,76)"/><ellipse cx="7.5" cy="5.6" rx="0.7" ry="2.2" fill="rgb(38,38,38)"/><ellipse cx="5.5" cy="10.6" rx="1.2" ry="2.6" fill="rgb(43,43,43)"/><ellipse cx="11.0" cy="11.2" rx="1.0" ry="2.0" fill="rgb(38,38,38)"/><polygon points="0,11.8 0,24 7.9,24 7.8,21 7.4,18 6.8,15 6.4,11.8" fill="rgb(56,56,56)"/><polygon points="16,12 16,24 8.9,24 9.0,21 9.3,18 9.7,15 10.0,12" fill="rgb(56,56,56)"/><polygon points="0,13.4 0,24 7.3,24 7.25,21.5 6.8,19 6.1,16.6 5.3,14.6 4.6,13.3" fill="rgb(115,115,115)"/><polygon points="16,13.5 16,24 9.4,24 9.5,21.5 10.0,19 10.6,16.8 11.1,14.8 11.5,13.5" fill="rgb(115,115,115)"/><polygon points="0,15.1 0,24 5.9,24 5.7,21.5 4.9,19 4.1,17 3.4,15.6 2.3,15.0" fill="rgb(158,158,158)"/><polygon points="16,15.1 16,24 10.6,24 10.8,21.5 11.5,19 12.2,17 12.8,15.6 13.6,15.0" fill="rgb(158,158,158)"/><ellipse cx="2.4" cy="18.2" rx="1.6" ry="2.6" fill="rgb(178,178,178)"/><ellipse cx="13.9" cy="18.0" rx="1.2" ry="2.4" fill="rgb(171,171,171)"/><ellipse cx="4.8" cy="22.3" rx="0.9" ry="0.7" fill="rgb(168,168,168)"/><rect x="8.0" y="13" width="1.2" height="8.5" fill="rgb(15,15,15)"/></g><g filter="url(#hlh)"><ellipse cx="2.1" cy="18.5" rx="1.1" ry="1.0" fill="rgb(199,199,199)"/><ellipse cx="1.55" cy="18.5" rx="0.5" ry="0.75" fill="rgb(255,255,255)"/><ellipse cx="1.5" cy="18.5" rx="0.3" ry="0.5" fill="rgb(255,255,255)"/><ellipse cx="8.3" cy="0.15" rx="1.25" ry="0.55" fill="rgb(115,115,115)"/><ellipse cx="14.45" cy="17.5" rx="0.3" ry="0.6" fill="rgb(189,189,189)"/></g><path d="M6 -1 H10 V2.2 L9.7 2.3 L9.5 2.5 V3.3 H8.48 V6.5 Q8.48 7 8 7.1 L7.6 7.2 Q7.44 7.25 7.44 7.6 L7.44 16.0 C7.5 15.6 8.2 15.6 8.45 16.3 C8.6 16.8 8.45 17.2 8.2 17.3 L7.6 17.45 L8.1 17.6 C8.4 17.8 8.4 18.6 8.42 19.5 L8.5 21.6 L8.62 19.5 C8.62 18.2 8.7 17 8.95 16.7 L9.5 16.5 L8.95 16.35 C8.5 15.9 8.6 14.8 9.3 14.55 C9.55 14.5 9.65 14.3 9.65 14 V8.9 Q9.65 8.56 10 8.56 H11.97 V10 H13 V13 H14 V15 H15 V20 H14 V22 H12 V23 H4 V22 H2 V20 H1 V15 H2 V13 H3 V10.57 H3.6 V10 H4 V8.56 H4.66 V7 H6 V4.55 L6.55 4.4 L6 4.25 Z" fill="none" stroke="#000" stroke-opacity="0.6" stroke-width="0.2" filter="url(#hle)"/></g></g></svg><svg class="abs" style="left:291px;top:257px" width="283" height="494" viewBox="0 0 283 494"><g stroke="#8c8c8c" stroke-opacity="0.33" stroke-width="1" stroke-dasharray="1 1" fill="none" shape-rendering="crispEdges"><path d="M17.5 0 V494"/><path d="M35.5 0 V494"/><path d="M53.5 0 V494"/><path d="M70.5 0 V494"/><path d="M88.5 0 V494"/><path d="M106.5 0 V494"/><path d="M123.5 0 V494"/><path d="M141.5 0 V494"/><path d="M159.5 0 V494"/><path d="M176.5 0 V494"/><path d="M194.5 0 V494"/><path d="M212.5 0 V494"/><path d="M229.5 0 V494"/><path d="M247.5 0 V494"/><path d="M265.5 0 V494"/><path d="M0 17.5 H283"/><path d="M0 35.5 H283"/><path d="M0 52.5 H283"/><path d="M0 70.5 H283"/><path d="M0 88.5 H283"/><path d="M0 105.5 H283"/><path d="M0 123.5 H283"/><path d="M0 141.5 H283"/><path d="M0 158.5 H283"/><path d="M0 176.5 H283"/><path d="M0 194.5 H283"/><path d="M0 211.5 H283"/><path d="M0 229.5 H283"/><path d="M0 247.5 H283"/><path d="M0 264.5 H283"/><path d="M0 282.5 H283"/><path d="M0 299.5 H283"/><path d="M0 317.5 H283"/><path d="M0 335.5 H283"/><path d="M0 352.5 H283"/><path d="M0 370.5 H283"/><path d="M0 388.5 H283"/><path d="M0 405.5 H283"/><path d="M0 423.5 H283"/><path d="M0 441.5 H283"/><path d="M0 458.5 H283"/><path d="M0 476.5 H283"/></g></svg>
<svg class="abs" style="left:693px;top:262px" width="283" height="494" viewBox="0 0 283 494"><rect width="283" height="494" fill="#d3d3d3"/><rect x="150.0" y="40.6" width="26.9" height="82.9" fill="#c8c8c8"/><rect x="131.6" y="123.5" width="80.7" height="45.9" fill="#c8c8c8"/><rect x="131.6" y="151.0" width="39.1" height="114.7" fill="#c8c8c8"/><rect x="63.7" y="123.5" width="17.7" height="63.5" fill="#c8c8c8"/><rect x="53.1" y="185.2" width="17.7" height="17.6" fill="#c8c8c8"/><rect x="201.6" y="167.6" width="28.3" height="35.3" fill="#c8c8c8"/><g stroke="#808080" stroke-opacity="1" stroke-width="1" stroke-dasharray="1 1" fill="none" shape-rendering="crispEdges"><path d="M17.5 0 V494"/><path d="M35.5 0 V494"/><path d="M53.5 0 V494"/><path d="M70.5 0 V494"/><path d="M88.5 0 V494"/><path d="M106.5 0 V494"/><path d="M123.5 0 V494"/><path d="M141.5 0 V494"/><path d="M159.5 0 V494"/><path d="M176.5 0 V494"/><path d="M194.5 0 V494"/><path d="M212.5 0 V494"/><path d="M229.5 0 V494"/><path d="M247.5 0 V494"/><path d="M265.5 0 V494"/><path d="M0 17.5 H283"/><path d="M0 35.5 H283"/><path d="M0 52.5 H283"/><path d="M0 70.5 H283"/><path d="M0 88.5 H283"/><path d="M0 105.5 H283"/><path d="M0 123.5 H283"/><path d="M0 141.5 H283"/><path d="M0 158.5 H283"/><path d="M0 176.5 H283"/><path d="M0 194.5 H283"/><path d="M0 211.5 H283"/><path d="M0 229.5 H283"/><path d="M0 247.5 H283"/><path d="M0 264.5 H283"/><path d="M0 282.5 H283"/><path d="M0 299.5 H283"/><path d="M0 317.5 H283"/><path d="M0 335.5 H283"/><path d="M0 352.5 H283"/><path d="M0 370.5 H283"/><path d="M0 388.5 H283"/><path d="M0 405.5 H283"/><path d="M0 423.5 H283"/><path d="M0 441.5 H283"/><path d="M0 458.5 H283"/><path d="M0 476.5 H283"/></g></svg><svg class="abs" style="left:693px;top:262px" width="283" height="494" viewBox="0 0 16 28" preserveAspectRatio="none"><defs><clipPath id="hac"><path d="M6 -1 H10 V2.28 L9.6 2.4 Q9.5 2.5 9.5 2.8 V4.14 L9.3 4.3 L8.8 4.4 Q8.48 4.45 8.48 4.8 V6.5 Q8.48 7 8.0 7.2 Q7.5 7.45 7.44 8.0 L7.3 8.2 L6.5 8.4 L7.3 8.6 Q7.44 8.8 7.44 9.2 V13.2 Q7.5 13.5 7.9 13.6 Q8.27 13.8 8.3 14.3 L8.35 15.2 L7.55 15.45 L8.3 15.62 C8.45 16.5 8.42 18 8.42 19.5 L8.5 21.6 L8.62 19.5 C8.62 18.2 8.7 17 8.95 16.7 L9.5 16.5 L8.95 16.35 C8.5 15.9 8.6 14.8 9.3 14.55 C9.55 14.5 9.65 14.3 9.65 14 V10.6 Q9.65 9.5 10.6 9.5 Q11.2 9.5 11.4 9.9 L11.6 10.4 L12 10.55 Q12.4 10.7 12.4 10.9 V11.45 H12.96 V13 H14 V15 H15 V20 H14 V22 H12 V23 H4 V22 H2 V20 H1 V15 H2 V13 H3 V11.5 L3.72 10.9 Q3.9 10.5 4.62 10.5 V7 H6 V4.57 L6.55 4.42 L6 4.27 Z" clip-rule="evenodd"/></clipPath>
<filter id="haj" filterUnits="userSpaceOnUse" x="0" y="0" width="16" height="28" color-interpolation-filters="sRGB"><feComponentTransfer><feFuncR type="table" tableValues="0.227 0.194 0.161 0.127 0.094 0.061 0.027 0.000 0.000 0.000 0.000 0.000 0.000 0.000 0.000 0.000 0.000 0.000 0.000 0.000 0.000 0.000 0.000 0.000 0.000 0.027 0.162 0.297 0.431 0.589 0.747 0.905 1.000 1.000 1.000 1.000 1.000 1.000 1.000 1.000 1.000"/><feFuncG type="table" tableValues="0.031 0.024 0.016 0.008 0.000 0.022 0.045 0.080 0.164 0.249 0.333 0.417 0.502 0.587 0.673 0.758 0.843 0.922 1.000 1.000 1.000 1.000 1.000 1.000 1.000 1.000 1.000 1.000 1.000 1.000 1.000 1.000 0.952 0.832 0.711 0.591 0.471 0.373 0.275 0.176 0.078"/><feFuncB type="table" tableValues="0.922 0.936 0.951 0.966 0.980 0.987 0.994 1.000 1.000 1.000 1.000 1.000 1.000 1.000 1.000 1.000 1.000 1.000 1.000 0.859 0.718 0.577 0.427 0.275 0.122 0.000 0.000 0.000 0.000 0.000 0.000 0.000 0.000 0.000 0.000 0.000 0.000 0.000 0.000 0.000 0.000"/></feComponentTransfer></filter>
<filter id="hab" filterUnits="userSpaceOnUse" x="-3" y="-3" width="22" height="34" color-interpolation-filters="sRGB"><feGaussianBlur stdDeviation="0.7"/></filter>
<filter id="hah" filterUnits="userSpaceOnUse" x="-3" y="-3" width="22" height="34" color-interpolation-filters="sRGB"><feGaussianBlur stdDeviation="0.3"/></filter>
<filter id="hae" filterUnits="userSpaceOnUse" x="-3" y="-3" width="22" height="34" color-interpolation-filters="sRGB"><feGaussianBlur stdDeviation="0.08"/></filter></defs><g clip-path="url(#hac)"><g filter="url(#haj)"><rect x="-1" y="-1" width="18" height="30" fill="#000"/><g filter="url(#hab)"><rect x="-3" y="-3" width="22" height="34" fill="rgb(13,13,13)"/><ellipse cx="8.2" cy="0.6" rx="1.6" ry="1.5" fill="rgb(76,76,76)"/><ellipse cx="8.1" cy="1.6" rx="0.8" ry="3.0" fill="rgb(76,76,76)"/><ellipse cx="7.5" cy="5.6" rx="0.7" ry="2.2" fill="rgb(38,38,38)"/><ellipse cx="5.5" cy="10.6" rx="1.2" ry="2.6" fill="rgb(43,43,43)"/><ellipse cx="11.0" cy="11.2" rx="1.0" ry="2.0" fill="rgb(38,38,38)"/><polygon points="0,11.8 0,24 7.9,24 7.8,21 7.4,18 6.8,15 6.4,11.8" fill="rgb(56,56,56)"/><polygon points="16,12 16,24 8.9,24 9.0,21 9.3,18 9.7,15 10.0,12" fill="rgb(56,56,56)"/><polygon points="0,13.4 0,24 7.3,24 7.25,21.5 6.8,19 6.1,16.6 5.3,14.6 4.6,13.3" fill="rgb(115,115,115)"/><polygon points="16,13.5 16,24 9.4,24 9.5,21.5 10.0,19 10.6,16.8 11.1,14.8 11.5,13.5" fill="rgb(115,115,115)"/><polygon points="0,15.1 0,24 5.9,24 5.7,21.5 4.9,19 4.1,17 3.4,15.6 2.3,15.0" fill="rgb(158,158,158)"/><polygon points="16,15.1 16,24 10.6,24 10.8,21.5 11.5,19 12.2,17 12.8,15.6 13.6,15.0" fill="rgb(158,158,158)"/><ellipse cx="2.4" cy="18.2" rx="1.6" ry="2.6" fill="rgb(178,178,178)"/><ellipse cx="13.9" cy="18.0" rx="1.2" ry="2.4" fill="rgb(171,171,171)"/><ellipse cx="4.8" cy="22.3" rx="0.9" ry="0.7" fill="rgb(168,168,168)"/><rect x="8.0" y="13" width="1.2" height="8.5" fill="rgb(15,15,15)"/></g><g filter="url(#hah)"><ellipse cx="2.1" cy="18.5" rx="1.15" ry="1.0" fill="rgb(199,199,199)"/><ellipse cx="1.55" cy="18.5" rx="0.5" ry="0.8" fill="rgb(255,255,255)"/><ellipse cx="1.5" cy="18.5" rx="0.3" ry="0.55" fill="rgb(255,255,255)"/><ellipse cx="8.35" cy="0.15" rx="1.25" ry="0.6" fill="rgb(115,115,115)"/><ellipse cx="8.45" cy="0.25" rx="0.45" ry="0.28" fill="rgb(143,143,143)"/><ellipse cx="14.45" cy="19.3" rx="0.42" ry="0.6" fill="rgb(204,204,204)"/><ellipse cx="14.4" cy="17.3" rx="0.4" ry="0.7" fill="rgb(191,191,191)"/></g><path d="M6 -1 H10 V2.28 L9.6 2.4 Q9.5 2.5 9.5 2.8 V4.14 L9.3 4.3 L8.8 4.4 Q8.48 4.45 8.48 4.8 V6.5 Q8.48 7 8.0 7.2 Q7.5 7.45 7.44 8.0 L7.3 8.2 L6.5 8.4 L7.3 8.6 Q7.44 8.8 7.44 9.2 V13.2 Q7.5 13.5 7.9 13.6 Q8.27 13.8 8.3 14.3 L8.35 15.2 L7.55 15.45 L8.3 15.62 C8.45 16.5 8.42 18 8.42 19.5 L8.5 21.6 L8.62 19.5 C8.62 18.2 8.7 17 8.95 16.7 L9.5 16.5 L8.95 16.35 C8.5 15.9 8.6 14.8 9.3 14.55 C9.55 14.5 9.65 14.3 9.65 14 V10.6 Q9.65 9.5 10.6 9.5 Q11.2 9.5 11.4 9.9 L11.6 10.4 L12 10.55 Q12.4 10.7 12.4 10.9 V11.45 H12.96 V13 H14 V15 H15 V20 H14 V22 H12 V23 H4 V22 H2 V20 H1 V15 H2 V13 H3 V11.5 L3.72 10.9 Q3.9 10.5 4.62 10.5 V7 H6 V4.57 L6.55 4.42 L6 4.27 Z" fill="none" stroke="#000" stroke-opacity="0.6" stroke-width="0.2" filter="url(#hae)"/></g></g></svg><svg class="abs" style="left:693px;top:262px" width="283" height="494" viewBox="0 0 283 494"><g stroke="#8c8c8c" stroke-opacity="0.33" stroke-width="1" stroke-dasharray="1 1" fill="none" shape-rendering="crispEdges"><path d="M17.5 0 V494"/><path d="M35.5 0 V494"/><path d="M53.5 0 V494"/><path d="M70.5 0 V494"/><path d="M88.5 0 V494"/><path d="M106.5 0 V494"/><path d="M123.5 0 V494"/><path d="M141.5 0 V494"/><path d="M159.5 0 V494"/><path d="M176.5 0 V494"/><path d="M194.5 0 V494"/><path d="M212.5 0 V494"/><path d="M229.5 0 V494"/><path d="M247.5 0 V494"/><path d="M265.5 0 V494"/><path d="M0 17.5 H283"/><path d="M0 35.5 H283"/><path d="M0 52.5 H283"/><path d="M0 70.5 H283"/><path d="M0 88.5 H283"/><path d="M0 105.5 H283"/><path d="M0 123.5 H283"/><path d="M0 141.5 H283"/><path d="M0 158.5 H283"/><path d="M0 176.5 H283"/><path d="M0 194.5 H283"/><path d="M0 211.5 H283"/><path d="M0 229.5 H283"/><path d="M0 247.5 H283"/><path d="M0 264.5 H283"/><path d="M0 282.5 H283"/><path d="M0 299.5 H283"/><path d="M0 317.5 H283"/><path d="M0 335.5 H283"/><path d="M0 352.5 H283"/><path d="M0 370.5 H283"/><path d="M0 388.5 H283"/><path d="M0 405.5 H283"/><path d="M0 423.5 H283"/><path d="M0 441.5 H283"/><path d="M0 458.5 H283"/><path d="M0 476.5 H283"/></g><rect x="0" y="247.7" width="283" height="1.6" fill="#000"/><rect x="141" y="248" width="2.2" height="246" fill="#000"/><path d="M63.9 313.3 L209.1 317.4" stroke="#ffee00" stroke-width="3"/><circle cx="126" cy="317.7" r="9.6" fill="#cfd5ff" stroke="#e8101c" stroke-width="2"/><circle cx="126" cy="318" r="1" fill="#000"/><text x="10.5" y="21.9" font-family="Liberation Sans, sans-serif" font-size="14" textLength="52.4" lengthAdjust="spacingAndGlyphs" fill="#000" stroke="#000" stroke-width=".28">left:right:</text><text x="130.9" y="21.9" font-family="Liberation Sans, sans-serif" font-size="14" textLength="34.4" lengthAdjust="spacingAndGlyphs" fill="#000" stroke="#000" stroke-width=".28">56:44</text><text x="10.5" y="42.6" font-family="Liberation Sans, sans-serif" font-size="14" textLength="69.3" lengthAdjust="spacingAndGlyphs" fill="#000" stroke="#000" stroke-width=".28">Front:Rear:</text><text x="130.9" y="42.6" font-family="Liberation Sans, sans-serif" font-size="14" textLength="34.4" lengthAdjust="spacingAndGlyphs" fill="#000" stroke="#000" stroke-width=".28">16:84</text><text x="10.5" y="62.6" font-family="Liberation Sans, sans-serif" font-size="14" textLength="116.6" lengthAdjust="spacingAndGlyphs" fill="#000" stroke="#000" stroke-width=".28">Pelvic Load Curve:</text><text x="130.9" y="62.6" font-family="Liberation Sans, sans-serif" font-size="14" textLength="42" lengthAdjust="spacingAndGlyphs" fill="#000" stroke="#000" stroke-width=".28">0.1:0.2</text></svg>
<svg class="abs" style="left:1095px;top:262px" width="283" height="494" viewBox="0 0 283 494"><rect width="283" height="494" fill="#d3d3d3"/><rect x="150.0" y="40.6" width="26.9" height="82.9" fill="#c8c8c8"/><rect x="132.7" y="123.5" width="79.1" height="27.5" fill="#c8c8c8"/><rect x="132.7" y="151.0" width="38.0" height="114.7" fill="#c8c8c8"/><rect x="70.8" y="123.5" width="11.0" height="9.4" fill="#c8c8c8"/><rect x="53.1" y="176.4" width="10.6" height="10.1" fill="#c8c8c8"/><g stroke="#808080" stroke-opacity="1" stroke-width="1" stroke-dasharray="1 1" fill="none" shape-rendering="crispEdges"><path d="M17.5 0 V494"/><path d="M35.5 0 V494"/><path d="M53.5 0 V494"/><path d="M70.5 0 V494"/><path d="M88.5 0 V494"/><path d="M106.5 0 V494"/><path d="M123.5 0 V494"/><path d="M141.5 0 V494"/><path d="M159.5 0 V494"/><path d="M176.5 0 V494"/><path d="M194.5 0 V494"/><path d="M212.5 0 V494"/><path d="M229.5 0 V494"/><path d="M247.5 0 V494"/><path d="M265.5 0 V494"/><path d="M0 17.5 H283"/><path d="M0 35.5 H283"/><path d="M0 52.5 H283"/><path d="M0 70.5 H283"/><path d="M0 88.5 H283"/><path d="M0 105.5 H283"/><path d="M0 123.5 H283"/><path d="M0 141.5 H283"/><path d="M0 158.5 H283"/><path d="M0 176.5 H283"/><path d="M0 194.5 H283"/><path d="M0 211.5 H283"/><path d="M0 229.5 H283"/><path d="M0 247.5 H283"/><path d="M0 264.5 H283"/><path d="M0 282.5 H283"/><path d="M0 299.5 H283"/><path d="M0 317.5 H283"/><path d="M0 335.5 H283"/><path d="M0 352.5 H283"/><path d="M0 370.5 H283"/><path d="M0 388.5 H283"/><path d="M0 405.5 H283"/><path d="M0 423.5 H283"/><path d="M0 441.5 H283"/><path d="M0 458.5 H283"/><path d="M0 476.5 H283"/></g></svg><svg class="abs" style="left:1095px;top:262px" width="283" height="494" viewBox="0 0 16 28" preserveAspectRatio="none"><defs><clipPath id="hcc"><path d="M6 -1 H10 V1.38 H9.5 V2.28 L8.8 3.5 Q8.48 4 8.48 4.3 V6.6 Q8.48 7.1 8 7.2 L7.7 7.3 Q7.5 7.4 7.5 7.8 V17.2 Q8.2 17.4 8.4 18 L8.42 19.5 L8.5 21.6 L8.62 19.5 C8.62 18.2 8.7 17 8.95 16.7 L9.5 16.5 L8.95 16.35 C8.5 15.9 8.6 14.8 9.3 14.55 C9.55 14.5 9.65 14.3 9.65 14 V8.9 Q9.65 8.56 10 8.56 H11.97 V10 H13 V13 H14 V15 H15 V20 H14 V22 H12 V23 H4 V22 H2 V20 H1 V15 H2 V13 H3 V10.57 H3.6 V10 H4 V7.53 H4.62 V7 H6 V1.5 L6.5 1.4 L6 1.3 Z" clip-rule="evenodd"/></clipPath>
<filter id="hcj" filterUnits="userSpaceOnUse" x="0" y="0" width="16" height="28" color-interpolation-filters="sRGB"><feComponentTransfer><feFuncR type="discrete" tableValues="0.000 0.024 0.078 0.098 0.000 0.000 0.000 0.000 0.392 0.784 1.000 1.000"/><feFuncG type="discrete" tableValues="0.063 0.275 0.490 0.667 0.843 1.000 1.000 1.000 1.000 1.000 1.000 0.588"/><feFuncB type="discrete" tableValues="0.941 0.961 0.980 0.980 1.000 1.000 0.588 0.000 0.000 0.000 0.000 0.000"/></feComponentTransfer></filter>
<filter id="hcb" filterUnits="userSpaceOnUse" x="-3" y="-3" width="22" height="34" color-interpolation-filters="sRGB"><feGaussianBlur stdDeviation="0.38"/></filter>
<filter id="hch" filterUnits="userSpaceOnUse" x="-3" y="-3" width="22" height="34" color-interpolation-filters="sRGB"><feGaussianBlur stdDeviation="0.3"/></filter>
<filter id="hce" filterUnits="userSpaceOnUse" x="-3" y="-3" width="22" height="34" color-interpolation-filters="sRGB"><feGaussianBlur stdDeviation="0.08"/></filter></defs><g clip-path="url(#hcc)"><g filter="url(#hcj)"><rect x="-1" y="-1" width="18" height="30" fill="#000"/><g filter="url(#hcb)"><rect x="-3" y="-3" width="22" height="34" fill="rgb(10,10,10)"/><polygon points="6.9,-1 9.7,-1 9.2,2 8.5,4 8.3,6 7.4,7.5 7.2,9 7.1,13 4.3,13 4.3,9 5,7.6 6.3,7.2 6.6,5 6.9,3" fill="rgb(32,32,32)"/><polygon points="7.3,-1 9.4,-1 8.7,2 8.0,4 7.8,6 7.0,7.8 6.7,9.5 6.7,12 4.9,12.5 5.0,10 5.6,8.6 6.5,7.3 7.0,5 7.3,3" fill="rgb(54,54,54)"/><ellipse cx="8.3" cy="0.3" rx="0.9" ry="0.9" fill="rgb(76,76,76)"/><ellipse cx="5.75" cy="10.4" rx="0.4" ry="1.6" fill="rgb(76,76,76)"/><polygon points="10.1,10.3 12.6,10.3 13.2,13.5 10.0,13.5" fill="rgb(32,32,32)"/><polygon points="10.4,11.2 12.3,11.0 13.0,13.5 10.2,13.5" fill="rgb(54,54,54)"/><polygon points="2.8,11.6 6.9,11.4 7.0,14 2.5,14" fill="rgb(54,54,54)"/><polygon points="2.2,12.4 6.5,12.2 6.6,14 2.0,14" fill="rgb(74,74,74)"/><polygon points="10.5,12.2 13.4,12.2 14.0,14 10.4,14" fill="rgb(74,74,74)"/><polygon points="0,12.8 0,24 8.2,24 7.8,21.5 7.3,19 7.0,16.5 7.0,13.8 6.9,12.8" fill="rgb(32,32,32)"/><polygon points="16,12.8 16,24 8.9,24 9.3,21.5 9.7,19 10.0,16.5 10.2,14 10.2,12.8" fill="rgb(32,32,32)"/><polygon points="0,13 0,24 7.9,24 7.5,21.5 7.0,19 6.65,16.5 6.5,14 6.3,13" fill="rgb(64,64,64)"/><polygon points="16,13 16,24 9.2,24 9.6,21.5 10.0,19 10.4,16.5 10.6,14 10.7,13" fill="rgb(64,64,64)"/><polygon points="0,13.0 0,24 7.2,24 6.9,21.5 6.3,19 5.7,16.5 5.3,14.3 5.0,13.0" fill="rgb(112,112,112)"/><polygon points="16,13.0 16,24 9.6,24 9.9,21.5 10.4,19 10.9,16.5 11.1,14.3 11.3,13.0" fill="rgb(112,112,112)"/><polygon points="0,13.8 0,24 6.0,24 5.7,21.5 5.0,19 4.3,16.5 3.8,14.6 3.3,13.8" fill="rgb(161,161,161)"/><polygon points="16,13.8 16,24 10.3,24 10.5,21.5 10.9,19 11.4,16.5 11.8,14.6 12.5,13.8" fill="rgb(161,161,161)"/><ellipse cx="2.2" cy="17.8" rx="1.2" ry="2.6" fill="rgb(178,178,178)"/><ellipse cx="14.0" cy="18.2" rx="1.1" ry="2.6" fill="rgb(178,178,178)"/><ellipse cx="3.4" cy="21.4" rx="1.2" ry="0.6" fill="rgb(178,178,178)"/><ellipse cx="4.8" cy="22.3" rx="0.8" ry="0.6" fill="rgb(178,178,178)"/></g><g filter="url(#hch)"><ellipse cx="8.3" cy="0.3" rx="0.7" ry="0.3" fill="rgb(117,117,117)"/><ellipse cx="1.55" cy="17.4" rx="0.3" ry="1.3" fill="rgb(204,204,204)"/><ellipse cx="1.5" cy="18.4" rx="0.2" ry="0.4" fill="rgb(224,224,224)"/><ellipse cx="14.5" cy="17.4" rx="0.26" ry="0.8" fill="rgb(219,219,219)"/><ellipse cx="3.0" cy="21.2" rx="0.5" ry="0.25" fill="rgb(199,199,199)"/><ellipse cx="4.65" cy="22.3" rx="0.3" ry="0.3" fill="rgb(204,204,204)"/><ellipse cx="13.3" cy="19.6" rx="0.5" ry="0.5" fill="rgb(194,194,194)"/></g><path d="M6 -1 H10 V1.38 H9.5 V2.28 L8.8 3.5 Q8.48 4 8.48 4.3 V6.6 Q8.48 7.1 8 7.2 L7.7 7.3 Q7.5 7.4 7.5 7.8 V17.2 Q8.2 17.4 8.4 18 L8.42 19.5 L8.5 21.6 L8.62 19.5 C8.62 18.2 8.7 17 8.95 16.7 L9.5 16.5 L8.95 16.35 C8.5 15.9 8.6 14.8 9.3 14.55 C9.55 14.5 9.65 14.3 9.65 14 V8.9 Q9.65 8.56 10 8.56 H11.97 V10 H13 V13 H14 V15 H15 V20 H14 V22 H12 V23 H4 V22 H2 V20 H1 V15 H2 V13 H3 V10.57 H3.6 V10 H4 V7.53 H4.62 V7 H6 V1.5 L6.5 1.4 L6 1.3 Z" fill="none" stroke="#000" stroke-opacity="0.5" stroke-width="0.2" filter="url(#hce)"/></g></g></svg><svg class="abs" style="left:1095px;top:262px" width="283" height="494" viewBox="0 0 283 494"><g stroke="#8c8c8c" stroke-opacity="0.33" stroke-width="1" stroke-dasharray="1 1" fill="none" shape-rendering="crispEdges"><path d="M17.5 0 V494"/><path d="M35.5 0 V494"/><path d="M53.5 0 V494"/><path d="M70.5 0 V494"/><path d="M88.5 0 V494"/><path d="M106.5 0 V494"/><path d="M123.5 0 V494"/><path d="M141.5 0 V494"/><path d="M159.5 0 V494"/><path d="M176.5 0 V494"/><path d="M194.5 0 V494"/><path d="M212.5 0 V494"/><path d="M229.5 0 V494"/><path d="M247.5 0 V494"/><path d="M265.5 0 V494"/><path d="M0 17.5 H283"/><path d="M0 35.5 H283"/><path d="M0 52.5 H283"/><path d="M0 70.5 H283"/><path d="M0 88.5 H283"/><path d="M0 105.5 H283"/><path d="M0 123.5 H283"/><path d="M0 141.5 H283"/><path d="M0 158.5 H283"/><path d="M0 176.5 H283"/><path d="M0 194.5 H283"/><path d="M0 211.5 H283"/><path d="M0 229.5 H283"/><path d="M0 247.5 H283"/><path d="M0 264.5 H283"/><path d="M0 282.5 H283"/><path d="M0 299.5 H283"/><path d="M0 317.5 H283"/><path d="M0 335.5 H283"/><path d="M0 352.5 H283"/><path d="M0 370.5 H283"/><path d="M0 388.5 H283"/><path d="M0 405.5 H283"/><path d="M0 423.5 H283"/><path d="M0 441.5 H283"/><path d="M0 458.5 H283"/><path d="M0 476.5 H283"/></g><rect x="0" y="247.7" width="283" height="1.6" fill="#000"/><rect x="141" y="248" width="2.2" height="246" fill="#2a2a2a"/><path d="M63.9 311.6 L210.8 320.1" stroke="#ffee00" stroke-width="2.4"/><circle cx="131.1" cy="317.7" r="9.8" fill="#8a8aff" fill-opacity=".62" stroke="#e8101c" stroke-width="1.6"/><circle cx="131.1" cy="318" r="1" fill="#000"/><path d="M63.9 311.6 L210.8 320.1" stroke="#ffee00" stroke-width="2.4"/><text x="10.5" y="21.9" font-family="Liberation Sans, sans-serif" font-size="14" textLength="52.4" lengthAdjust="spacingAndGlyphs" fill="#000">left:right:</text><text x="130.9" y="21.9" font-family="Liberation Sans, sans-serif" font-size="14" textLength="34.4" lengthAdjust="spacingAndGlyphs" fill="#000">52:48</text><text x="10.5" y="42.6" font-family="Liberation Sans, sans-serif" font-size="14" textLength="69.3" lengthAdjust="spacingAndGlyphs" fill="#000">Front:Rear:</text><text x="130.9" y="42.6" font-family="Liberation Sans, sans-serif" font-size="14" textLength="34.4" lengthAdjust="spacingAndGlyphs" fill="#000">20:80</text><text x="10.5" y="62.6" font-family="Liberation Sans, sans-serif" font-size="14" textLength="116.6" lengthAdjust="spacingAndGlyphs" fill="#000">Pelvic Load Curve:</text><text x="130.9" y="62.6" font-family="Liberation Sans, sans-serif" font-size="14" textLength="41" lengthAdjust="spacingAndGlyphs" fill="#000">0.2:1.1</text></svg>
<div id="foot"></div>
<svg class="abs" style="left:271px;top:987px" width="13" height="12" viewBox="0 0 13 12"><g fill="#222"><rect x="4.6" y="0.4" width="3.8" height="3.6"/><rect x="0.4" y="7.6" width="3.4" height="3.6"/><rect x="4.8" y="7.6" width="3.4" height="3.6"/><rect x="9.2" y="7.6" width="3.4" height="3.6"/><rect x="6" y="4" width="1" height="2.6"/><rect x="1.6" y="5.6" width="9.8" height="1"/><rect x="1.6" y="5.6" width="1" height="2"/><rect x="10.4" y="5.6" width="1" height="2"/></g></svg><svg class="abs" style="left:318.5px;top:990.5px" width="5" height="7"><path d="M0.8 1 L3.6 3.4 L0.8 5.8Z" fill="#222"/></svg><svg class="abs" style="left:418.8px;top:990.5px" width="5" height="7"><path d="M0.8 1 L3.6 3.4 L0.8 5.8Z" fill="#222"/></svg><svg class="abs" style="left:515.4px;top:990.5px" width="5" height="7"><path d="M0.8 1 L3.6 3.4 L0.8 5.8Z" fill="#222"/></svg><svg class="abs" style="left:615.6px;top:990.5px" width="5" height="7"><path d="M0.8 1 L3.6 3.4 L0.8 5.8Z" fill="#222"/></svg><div class="t" style="left:342.2px;top:987.5px;font-size:12px;color:#555;letter-spacing:-0.24px;">Dashboard</div><div class="t" style="left:442.4px;top:987.5px;font-size:12px;color:#555;letter-spacing:-0.25px;">My Clients</div><div class="t" style="left:538.7px;top:987.5px;font-size:12px;color:#555;letter-spacing:-0.21px;">Huber Fritz</div><div class="t" style="left:638.9px;top:987.5px;font-size:12px;color:#555;letter-spacing:-0.31px;">Saddle Pressure Analysis</div><div class="t" style="left:1202.4px;top:987.4px;font-size:12px;color:#555;letter-spacing:-0.24px;">Station number: 313 - ©2023 - Velometrik GmbH - Bike Fitting Systems - 3.0.5</div><div class="abs" style="left:0;top:0;width:1611px;height:1px;background:#3d7fc4"></div><div class="abs" style="left:0;top:0;width:1px;height:118px;background:#2a78c8"></div><div class="abs" style="left:1610px;top:0;width:1px;height:1013px;background:#5a6f8c"></div><div class="abs" style="left:0;top:1011px;width:1611px;height:2px;background:#2f3a52"></div>
</div></body></html>
